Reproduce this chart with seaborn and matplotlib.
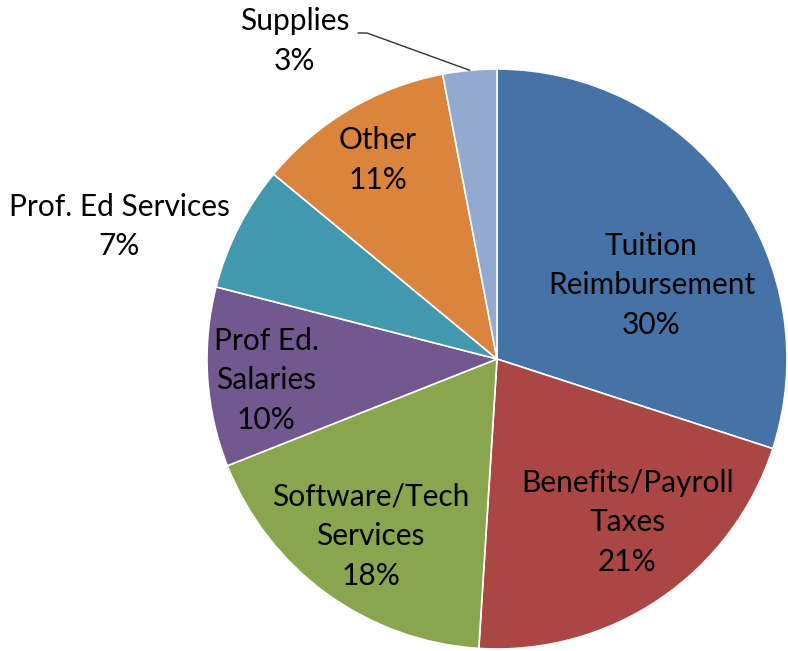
import numpy as np
import matplotlib.pyplot as plt
import seaborn as sns

# slice values (percent), clockwise from 12 o'clock
categories = ["Tuition\nReimbursement", "Benefits/Payroll\nTaxes", "Software/Tech\nServices",
              "Prof Ed.\nSalaries", "Prof. Ed Services", "Other", "Supplies"]
shares = [30, 21, 18, 10, 7, 11, 3]

colors = ["#4572A7", "#AA4643", "#89A54E", "#71588F", "#4198AF", "#DB843D", "#93A9CF"]

# label placement: radius (fraction of pie radius) and angle shift from slice middle (deg)
label_radius = [0.59, 0.72, 0.75, 0.80, 1.38, 0.80, 1.30]
label_shift = [-10.5, 4.4, 0.5, 1.6, 7.7, 0.3, 27.1]

sns.set_theme(style="white")
plt.rcParams["font.family"] = ["Lato", "DejaVu Sans"]

fig = plt.figure(figsize=(7.88, 6.51), dpi=100)
ax = fig.add_axes([0, 0, 1, 1])

R = 290.0
wedges, _ = ax.pie(shares, colors=colors, startangle=90, counterclock=False,
                   wedgeprops=dict(edgecolor="white", linewidth=1.2))

total = sum(shares)
for w, name, val, rr, sh in zip(wedges, categories, shares, label_radius, label_shift):
    mid = (w.theta1 + w.theta2) / 2 + sh
    x = rr * np.cos(np.radians(mid))
    y = rr * np.sin(np.radians(mid))
    ax.text(x, y, f"{name}\n{round(100 * val / total)}%", ha="center", va="center",
            fontsize=21.5, linespacing=1.5, color="black")

# leader line for Supplies
sup = wedges[-1]
mid = np.radians((sup.theta1 + sup.theta2) / 2)
ax.plot([-139 / R, -130 / R, np.cos(mid)], [326 / R, 326 / R, np.sin(mid)],
        color="#333333", linewidth=1.0)

ax.set_xlim(-497 / R, 291 / R)
ax.set_ylim(-292 / R, 359 / R)
ax.set_aspect("auto")
ax.axis("off")

fig.savefig("out.png", dpi=100)
